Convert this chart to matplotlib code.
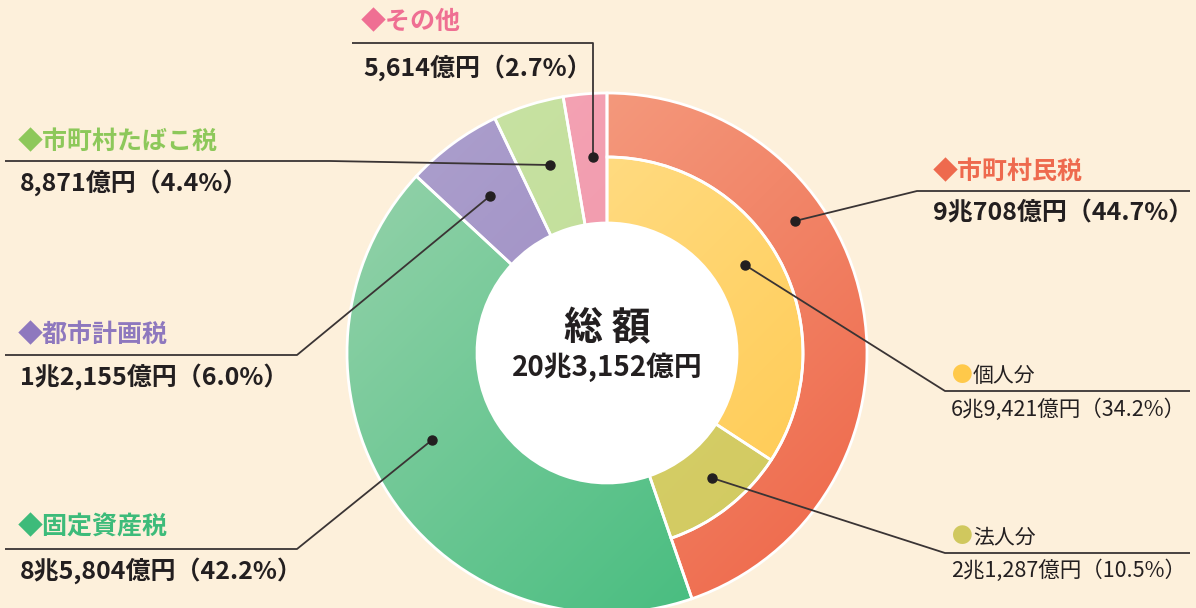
import numpy as np
import matplotlib
matplotlib.use("Agg")
import matplotlib.pyplot as plt
from matplotlib.colors import LinearSegmentedColormap

plt.rcParams['font.family'] = ['Noto Sans CJK JP', 'DejaVu Sans']

# ---- data ----
outer_labels = ["市町村民税", "固定資産税", "都市計画税", "市町村たばこ税", "その他"]
outer_values = [44.7, 42.2, 6.0, 4.4, 2.7]
outer_amounts = ["9兆708億円", "8兆5,804億円", "1兆2,155億円", "8,871億円", "5,614億円"]
inner_labels = ["個人分", "法人分"]
inner_values = [34.2, 10.5]
inner_amounts = ["6兆9,421億円", "2兆1,287億円"]
total_label = "総 額"
total_amount = "20兆3,152億円"

# ---- style ----
W, H = 1196, 608
BG = "#FDF0DB"
outer_grad = [("#F6AA8E", "#EE6446"), ("#9CD4AE", "#38B977"), ("#AEA2CE", "#927EBC"),
              ("#CAE3A6", "#B9DA8C"), ("#F5A8B8", "#EE8AA0")]
inner_grad = [("#FFE49A", "#FFC646"), ("#DCD572", "#D0C85E")]
title_colors = ["#EE6A4E", "#3DBB7A", "#8E78BE", "#8DC85A", "#EF6F93"]
marker_colors = ["#FFC94A", "#D0C85E"]
TXT = "#231F20"
LINE = "#3A3434"

def Y(y):
    return H - y

fig = plt.figure(figsize=(W / 100, H / 100), dpi=100)
fig.patch.set_facecolor(BG)
ax = fig.add_axes([0, 0, 1, 1])
ax.set_facecolor(BG)

cx, cy = 607, Y(353)
R_out, R_mid, R_in = 260, 196, 130

wedges, _ = ax.pie(outer_values, radius=R_out, center=(cx, cy), startangle=90,
                   counterclock=False,
                   wedgeprops=dict(width=R_out - R_in, edgecolor="white", linewidth=2))
wedges[0].set_width(R_out - R_mid)

inner_all = inner_values + [100 - sum(inner_values)]
iw, _ = ax.pie(inner_all, radius=R_mid, center=(cx, cy), startangle=90,
               counterclock=False,
               wedgeprops=dict(width=R_mid - R_in, edgecolor="white", linewidth=2))
iw[-1].set_visible(False)

def grad_fill(wedge, c1, c2):
    cmap = LinearSegmentedColormap.from_list("g", [c1, c2])
    n = 200
    xx, yy = np.meshgrid(np.linspace(0, 1, n), np.linspace(0, 1, n))
    g = (xx + (1 - yy)) / 2.0
    x0, x1 = cx - R_out, cx + R_out
    y0, y1 = cy - R_out, cy + R_out
    im = ax.imshow(g, cmap=cmap, extent=(x0, x1, y0, y1), origin="lower",
                   zorder=1, interpolation="bilinear")
    im.set_clip_path(wedge)
    wedge.set_facecolor("none")
    wedge.set_zorder(2)

for w, (c1, c2) in zip(wedges, outer_grad):
    grad_fill(w, c1, c2)
for w, (c1, c2) in zip(iw[:2], inner_grad):
    grad_fill(w, c1, c2)

ax.add_patch(plt.Circle((cx, cy), R_in, facecolor="white", edgecolor="none", zorder=3))

ax.text(cx, Y(329), total_label, ha="center", va="center", fontsize=28,
        fontweight="bold", color=TXT, zorder=5)
ax.text(cx, Y(367), total_amount, ha="center", va="center", fontsize=20,
        fontweight="bold", color=TXT, zorder=5)

# ---- leader lines ----
def leader(pts, lw=1.3):
    xs = [p[0] for p in pts]
    ys = [Y(p[1]) for p in pts]
    ax.plot(xs, ys, color=LINE, lw=lw, zorder=6, solid_capstyle="butt")
    ax.plot(xs[-1], ys[-1], "o", color="#231F20", ms=6.5, zorder=7)

leader([(1190, 191), (917, 191), (795, 221)])        # 市町村民税
leader([(5, 549), (297, 549), (432, 440)])           # 固定資産税
leader([(5, 355), (297, 355), (490, 196)])           # 都市計画税
leader([(5, 161), (330, 161), (550, 165)])           # たばこ税
leader([(352, 43), (593, 43), (593, 157)])           # その他
leader([(1190, 391), (945, 391), (745, 265)])        # 個人分
leader([(1190, 553), (945, 553), (712, 478)])        # 法人分

# ---- labels ----
title_pos = [(933, 172), (18, 527), (18, 335), (18, 142), (361, 22)]
value_pos = [(933, 213), (20, 571), (20, 377), (20, 183), (363, 68)]
for lab, amt, pct, col, tp, vp in zip(outer_labels, outer_amounts, outer_values,
                                      title_colors, title_pos, value_pos):
    ax.text(tp[0], Y(tp[1]), "◆" + lab, ha="left", va="center", fontsize=18,
            fontweight="bold", color=col, zorder=8)
    ax.text(vp[0], Y(vp[1]), f"{amt}（{pct:.1f}%）", ha="left", va="center",
            fontsize=18, fontweight="bold", color=TXT, zorder=8)

in_title_pos = [(952, 376), (952, 537)]
in_value_pos = [(951, 410), (951, 571)]
for lab, amt, pct, col, tp, vp in zip(inner_labels, inner_amounts, inner_values,
                                      marker_colors, in_title_pos, in_value_pos):
    ax.text(tp[0], Y(tp[1]), "●", ha="left", va="center", fontsize=15,
            color=col, zorder=8)
    ax.text(tp[0] + 21, Y(tp[1]), lab, ha="left", va="center", fontsize=15,
            color=TXT, zorder=8)
    ax.text(vp[0], Y(vp[1]), f"{amt}（{pct:.1f}%）", ha="left", va="center",
            fontsize=15.5, color=TXT, zorder=8)

ax.set_xlim(0, W)
ax.set_ylim(0, H)
ax.set_aspect("equal")
ax.axis("off")

fig.savefig("out.png", dpi=100, facecolor=BG)
